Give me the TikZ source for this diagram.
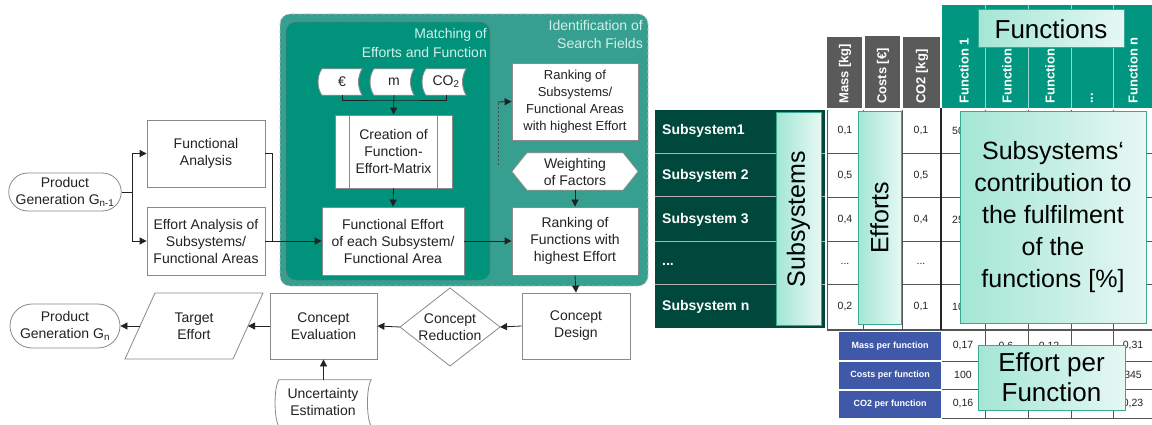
\documentclass[tikz,border=0pt]{standalone}
\usepackage{fontspec}
\setmainfont{Liberation Sans}
\usetikzlibrary{arrows.meta,shapes.misc}
\newcommand\fsz[2]{\fontsize{#1}{#2}\selectfont}
\definecolor{txt}{HTML}{222222}
\definecolor{boxgray}{HTML}{8A8A8A}
\definecolor{outerteal}{HTML}{379F8F}
\definecolor{innerteal}{HTML}{00927B}
\definecolor{titlec}{HTML}{D2F0EA}
\definecolor{subsg}{HTML}{00483C}
\definecolor{hdrgray}{HTML}{5A5A5A}
\definecolor{fteal}{HTML}{00967F}
\definecolor{blu}{HTML}{3F58A8}
\definecolor{ovL}{HTML}{A3E6D4}
\definecolor{ovR}{HTML}{E6F8F3}
\definecolor{ovB}{HTML}{3AA892}
\definecolor{gridc}{HTML}{555555}
\newcommand\cardshape[1]{\draw[cardst] (#1.north west) .. controls +(-5,8) and +(-5,-8) .. (#1.south west) -- (#1.south east) .. controls +(-5,-8) and +(-5,8) .. (#1.north east) -- cycle;}
\begin{document}
\begin{tikzpicture}[x=1pt,y=-1pt,
  every node/.style={font=\fsz{14}{17}, text=txt, align=center, inner sep=0pt},
  fbox/.style={draw=boxgray, fill=white, line width=0.8pt},
  cardst/.style={draw=boxgray, fill=white, line width=0.8pt},
  ln/.style={line width=0.8pt, draw=txt},
  arr/.style={ln, -{Triangle[length=7pt,width=7pt]}},
  title/.style={text=titlec, anchor=east, align=right},
  sub/.style={text=white, font=\bfseries\fsz{14}{16}, anchor=west},
  hdr/.style={text=white, font=\bfseries\fsz{13}{15}, rotate=90, anchor=west},
  val/.style={font=\fsz{10.5}{12}, text=txt},
  ovbox/.style={draw=ovB, line width=1pt, left color=ovL, right color=ovR},
  ovtext/.style={font=\fsz{25}{32}, text=black},
  blab/.style={text=white, font=\bfseries\fsz{9}{11}}]
\useasboundingbox (0,0) rectangle (1152,425);
\fill[white] (0,0) rectangle (1152,425);

% ---------- teal regions ----------
\draw[dashed, draw=gray!45, fill=outerteal, line width=0.8pt, rounded corners=10pt] (280,14) rectangle (648,286);
\draw[dashed, draw=black!55, fill=innerteal, line width=0.8pt, rounded corners=10pt] (286,22) rectangle (490,280);
\node[title] (t1) at (487,35) {Matching of};
\node[title] (t2) at (487,52) {Efforts and Function};
\node[title] (t3) at (643,25) {Identification of};
\node[title] (t4) at (643,43) {Search Fields};

% ---------- left flow ----------
\node[fbox, rounded rectangle, minimum width=110pt, minimum height=38pt] (pg1) at (65,192) {Product\\Generation G\textsubscript{n-1}};
\node[fbox, minimum width=118pt, minimum height=67pt] (fa) at (206,153.5) {Functional\\Analysis};
\node[fbox, minimum width=118pt, minimum height=68pt] (ea) at (206,241) {Effort Analysis of\\Subsystems/\\Functional Areas};
\coordinate (j1) at (132,192);
\draw[arr] (pg1.east) -- (j1) |- (fa.west);
\draw[arr] (j1) |- (ea.west);

% cards
\node[minimum width=40pt, minimum height=26pt] (c1) at (342,82) {};
\node[minimum width=40pt, minimum height=26pt] (c2) at (394,82) {};
\node[minimum width=40pt, minimum height=26pt] (c3) at (446,82) {};
\cardshape{c1}\cardshape{c2}\cardshape{c3}
\node at (c1) {€};
\node at (c2) {m};
\node at (c3) {CO\textsubscript{2}};
\coordinate (j3) at (394,100);
\node[fbox, minimum width=117pt, minimum height=73pt] (cfm) at (393.5,151.5) {Creation of\\Function-\\Effort-Matrix};
\draw[line width=0.8pt, draw=boxgray] ([xshift=15pt]cfm.north west) -- ([xshift=15pt]cfm.south west);
\draw[line width=0.8pt, draw=boxgray] ([xshift=-15pt]cfm.north east) -- ([xshift=-15pt]cfm.south east);
\draw[ln] (c1.south) |- (j3) -| (c3.south);
\draw[arr] (c2.south) -- (cfm.north);

\node[fbox, minimum width=142pt, minimum height=68pt] (fe) at (393,241) {Functional Effort\\of each Subsystem/\\Functional Area};
\draw[arr] (cfm.south) -- (fe.north);
\coordinate (j2) at (272,241);
\draw[ln] (fa.east) -| (j2);
\draw[arr] (ea.east) -- (fe.west);

\node[fbox, minimum width=126pt, minimum height=77pt, font=\fsz{13}{17}] (rs) at (575,101.5) {Ranking of\\Subsystems/\\Functional Areas\\with highest Effort};
\node[minimum width=126pt, minimum height=37pt] (wf) at (575,171.5) {Weighting\\of Factors};
\draw[fbox] (wf.west) -- ([xshift=15pt]wf.north west) -- ([xshift=-15pt]wf.north east) -- (wf.east) -- ([xshift=-15pt]wf.south east) -- ([xshift=15pt]wf.south west) -- cycle;
\node at (wf) {Weighting\\of Factors};
\node[fbox, minimum width=126pt, minimum height=68pt] (rf) at (575,241) {Ranking of\\Functions with\\highest Effort};
\draw[arr] (wf.south) -- (rf.north);
\draw[arr] (fe.east) -- (rf.west);
\coordinate (j4) at (498,165);
\draw[line width=0.6pt, draw=black!70, dash pattern=on 2pt off 2pt] (j4) -- (498,102);
\draw[arr] (498,102) -- (rs.west);

% bottom row
\node[fbox, minimum width=108pt, minimum height=66pt] (cd) at (576,326) {Concept\\Design};
\draw[arr] (rf.south) -- (cd.north);
\node (cr) at (450,327) {Concept\\Reduction};
\coordinate (crE) at (500,327);
\coordinate (crW) at (400,327);
\draw[fbox] (crW) -- (450,288) -- (crE) -- (450,366) -- cycle;
\node at (cr) {Concept\\Reduction};
\draw[arr] (cd.west) -- (crE);
\node[fbox, minimum width=107pt, minimum height=66pt] (ce) at (323.5,326) {Concept\\Evaluation};
\draw[arr] (crW) -- (ce.west -| ce.east);
\node (te) at (194,326) {Target\\Effort};
\draw[fbox] (155,293) -- (263,293) -- (233,359) -- (125,359) -- cycle;
\node at (te) {Target\\Effort};
\coordinate (teE) at (248,326);
\coordinate (teW) at (140,326);
\draw[arr] (ce.west) -- (teE);
\node[fbox, rounded rectangle, minimum width=110pt, minimum height=44pt] (pgn) at (65,326) {Product\\Generation G\textsubscript{n}};
\draw[arr] (teW) -- (pgn.east);
\node[minimum width=92pt, minimum height=46pt] (ue) at (325,403) {};
\cardshape{ue}
\node at (323,402) {Uncertainty\\Estimation};
\draw[arr] (ue.north -| ce.south) -- (ce.south);

% ---------- matrix ----------
\fill[subsg] (655,110) rectangle (825,328);
\foreach \yy in {153.5,197,241,284.5} \draw[line width=1pt, draw=gray!60] (655,\yy) -- (825,\yy);
\node[sub] (s1) at (662,131) {Subsystem1};
\node[sub] (s2) at (662,176) {Subsystem 2};
\node[sub] (s3) at (662,219.5) {Subsystem 3};
\node[sub] (s4) at (662,264) {...};
\node[sub] (s5) at (662,307) {Subsystem n};

% effort headers
\fill[hdrgray] (827,37) rectangle (862,108);
\fill[hdrgray] (865,36) rectangle (900,108);
\fill[hdrgray] (903,37) rectangle (940,108);
\node[hdr] (h1) at (845,104) {Mass [kg]};
\node[hdr] (h2) at (883,104) {Costs [€]};
\node[hdr] (h3) at (922,104) {CO2 [kg]};

% function header
\fill[fteal] (942,5) rectangle (1152,108);
\foreach \xx in {985,1028,1071,1113} \draw[line width=0.8pt, draw=white!60!fteal] (\xx,5) -- (\xx,108);
\node[hdr] (f1) at (964,104) {Function 1};
\node[hdr] (f2) at (1007,104) {Function 2};
\node[hdr] (f3) at (1050,104) {Function 3};
\node[hdr] (f4) at (1092,104) {...};
\node[hdr] (f5) at (1133,104) {Function n};

% data grid
\foreach \yy in {153.5,197,241,284.5} \draw[line width=0.8pt, draw=gridc] (827,\yy) -- (1152,\yy);
\foreach \xx in {985,1028,1071,1113} \draw[line width=0.8pt, draw=gridc] (\xx,110) -- (\xx,330);
\draw[line width=0.8pt, draw=gridc] (827,110) -- (827,330) (863,110) -- (863,330) (902,110) -- (902,330);
\draw[line width=1.2pt, draw=gridc] (827,330) -- (1152,330);
\draw[line width=2pt, draw=black!85] (941,108) -- (941,330);
\node[val] (m1) at (845,131) {0,1};
\node[val] (m2) at (845,176) {0,5};
\node[val] (m3) at (845,219.5) {0,4};
\node[val] (m4) at (845,264) {...};
\node[val] (m5) at (845,307) {0,2};
\node[val] (k1) at (921,131) {0,1};
\node[val] (k2) at (921,176) {0,5};
\node[val] (k3) at (921,219.5) {0,4};
\node[val] (k4) at (921,264) {...};
\node[val] (k5) at (921,307) {0,1};
\node[val] (p1) at (958,131) {50};
\node[val] (p3) at (958,219.5) {25};
\node[val] (p5) at (958,307) {10};

% bottom effort-per-function rows
\fill[blu] (839,332) rectangle (941,360);
\fill[blu] (839,361.5) rectangle (941,389);
\fill[blu] (839,390.5) rectangle (941,418);
\node[blab] (b1) at (890,346) {Mass per function};
\node[blab] (b2) at (890,375) {Costs per function};
\node[blab] (b3) at (890,404) {CO2 per function};
\foreach \yy in {361,389.5,418} \draw[line width=0.8pt, draw=gridc] (942,\yy) -- (1152,\yy);
\foreach \xx in {985,1028,1071,1113} \draw[line width=0.8pt, draw=gridc] (\xx,330) -- (\xx,418);
\node[val] (e1) at (963,346) {0,17};
\node[val] (e2) at (963,375) {100};
\node[val] (e3) at (963,404) {0,16};
\node[val] (e4) at (1006,347) {0,6};
\node[val] (e5) at (1049,347) {0,12};
\node[val] (e6) at (1133,346) {0,31};
\node[val] (e7) at (1133,375) {345};
\node[val] (e8) at (1133,404) {0,23};

% overlays
\node[ovbox, minimum width=45pt, minimum height=212pt] (ovs) at (798.5,219) {};
\node[ovtext, rotate=90] (ovst) at (ovs) {Subsystems};
\node[ovbox, minimum width=43pt, minimum height=212pt] (ove) at (879.5,218) {};
\node[ovtext, rotate=90] (ovet) at (ove) {Efforts};
\node[ovbox, ovtext, minimum width=146pt, minimum height=38pt, font=\fsz{26}{30}] (ovf) at (1051,29) {Functions};
\node[ovbox, ovtext, minimum width=186pt, minimum height=211pt] (ovc) at (1053,217.5) {Subsystems‘\\contribution to\\the fulfilment\\of the\\functions [\%]};
\node[ovbox, ovtext, minimum width=147pt, minimum height=65pt, font=\fsz{26}{30}] (ovp) at (1051.5,377.5) {Effort per\\Function};
\end{tikzpicture}
\end{document}
